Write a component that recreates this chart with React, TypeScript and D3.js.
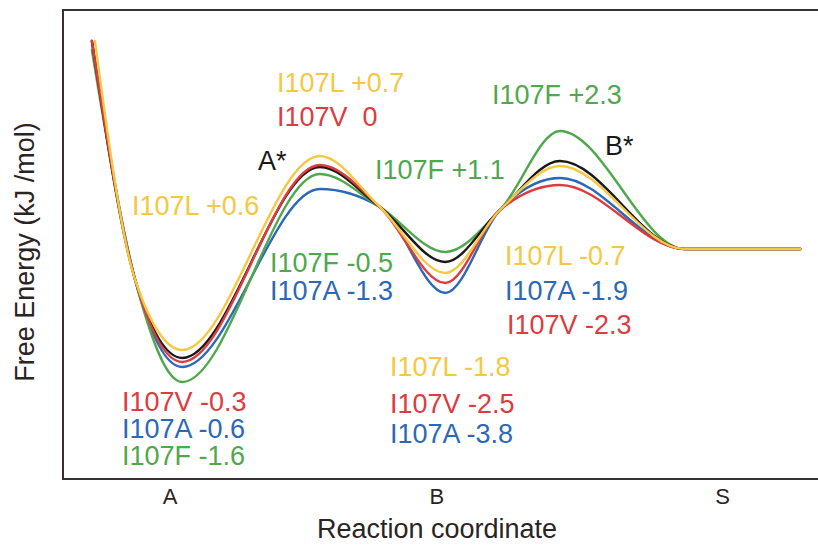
import React from "react";
import * as d3 from "d3";

// reaction-coordinate positions of the profile's control points
const coords = [3.8, 9.5, 15.7, 33.8, 41.7, 50.3, 57.5, 65.4, 81.8, 97];
const startCoord = [3.8, 3.8, 3.8, 3.8, 4.2];

// free-energy values (arbitrary units) along the coordinate
const seriesNames = ["I107A", "I107F", "WT", "I107V", "I107L"];
const blueA = [20.8, -3.1, -11.8, 6.0, 4.2, -4.4, 3.9, 7.1, 0, 0];
const greenF = [19.9, -3.1, -13.3, 7.5, 4.2, -0.3, 3.9, 11.8, 0, 0];
const blackWT = [20.8, -3.1, -10.9, 8.2, 4.2, -1.3, 3.9, 8.8, 0, 0];
const redV = [20.8, -3.1, -11.3, 8.4, 4.2, -3.4, 3.9, 6.4, 0, 0];
const yellowL = [20.8, -3.1, -10.1, 9.3, 4.2, -2.4, 3.9, 8.3, 0, 0];
const seriesValues = [blueA, greenF, blackWT, redV, yellowL];

const tickNames = ["A", "B", "S"];
const tickCoords = [14.1, 49.2, 86.8];

const labelTexts = [
  "I107L +0.7", "I107V  0", "A*", "I107F +1.1", "I107F +2.3", "B*",
  "I107L +0.6", "I107F -0.5", "I107A -1.3", "I107L -0.7", "I107A -1.9",
  "I107V -2.3", "I107L -1.8", "I107V -2.5", "I107A -3.8", "I107V -0.3",
  "I107A -0.6", "I107F -1.6",
];
const labelSeries = [
  "I107L", "I107V", "WT", "I107F", "I107F", "WT",
  "I107L", "I107F", "I107A", "I107L", "I107A",
  "I107V", "I107L", "I107V", "I107A", "I107V",
  "I107A", "I107F",
];

// layout (pixel positions of annotations)
const labelPos: [number, number][] = [
  [277, 92], [277, 126], [258, 170], [375, 179], [492, 104], [605, 155],
  [132, 215], [270, 272], [270, 300], [505, 265], [505, 300],
  [507, 334], [390, 376], [390, 413], [390, 443], [122, 411],
  [122, 438], [122, 465],
];

const colors: Record<string, string> = {
  I107A: "#2b69b6",
  I107F: "#4fa84c",
  WT: "#1c1818",
  I107V: "#de3b3f",
  I107L: "#f5c843",
};

const W = 818;
const H = 545;
const font = "'Liberation Sans', Arial, Helvetica, sans-serif";

export default function App() {
  const x = d3.scaleLinear().domain([0, 100]).range([63, 823]);
  const y = d3.scaleLinear().domain([-23, 24]).range([479, 9]);

  const line = d3
    .line<[number, number]>()
    .x((d) => x(d[0]))
    .y((d) => y(d[1]))
    .curve(d3.curveMonotoneX);

  return (
    <svg
      width={W}
      height={H}
      style={{ position: "absolute", left: 0, top: 0, background: "#fff" }}
      fontFamily={font}
    >
      <rect x={63} y={10} width={800} height={469} fill="none" stroke="#3a3232" strokeWidth={2} />
      {seriesValues.map((vals, i) => {
        const pts: [number, number][] = vals.map((v, j) => [j === 0 ? startCoord[i] : coords[j], v]);
        return (
          <path
            key={seriesNames[i]}
            d={line(pts) || ""}
            fill="none"
            stroke={colors[seriesNames[i]]}
            strokeWidth={2.4}
            strokeLinejoin="round"
            strokeLinecap="round"
          />
        );
      })}
      {labelTexts.map((t, i) => (
        <text
          key={i}
          x={labelPos[i][0]}
          y={labelPos[i][1]}
          fill={colors[labelSeries[i]]}
          fontSize={27}
          style={{ whiteSpace: "pre" }}
        >
          {t}
        </text>
      ))}
      {tickNames.map((t, i) => (
        <text key={t} x={x(tickCoords[i])} y={504} textAnchor="middle" fontSize={22} fill="#2a2424">
          {t}
        </text>
      ))}
      <text x={437} y={538} textAnchor="middle" fontSize={27} fill="#2a2424">
        Reaction coordinate
      </text>
      <text
        transform="translate(34,252) rotate(-90)"
        textAnchor="middle"
        fontSize={27}
        fill="#2a2424"
      >
        Free Energy (kJ /mol)
      </text>
    </svg>
  );
}
